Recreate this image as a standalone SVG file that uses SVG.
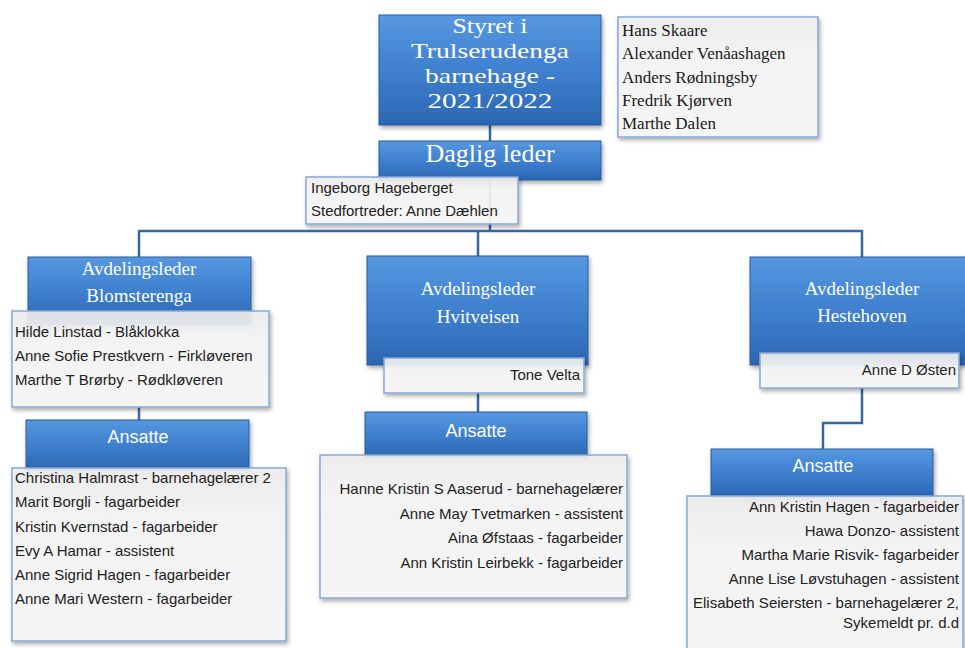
<svg xmlns="http://www.w3.org/2000/svg" width="965" height="648" viewBox="0 0 965 648">
<defs>
  <linearGradient id="blue" x1="0" y1="0" x2="0" y2="1">
    <stop offset="0" stop-color="#5797e0"/>
    <stop offset="0.5" stop-color="#3f80cf"/>
    <stop offset="1" stop-color="#2b66b2"/>
  </linearGradient>
  <linearGradient id="pale" x1="0" y1="0" x2="0" y2="1">
    <stop offset="0" stop-color="#eeeeee"/>
    <stop offset="0.3" stop-color="#f6f6f6"/>
    <stop offset="1" stop-color="#f8f8f8"/>
  </linearGradient>
  <filter id="sh" x="-10%" y="-10%" width="125%" height="130%">
    <feDropShadow dx="1.5" dy="2.5" stdDeviation="2" flood-color="#000" flood-opacity="0.35"/>
  </filter>
</defs>
<style>
  .bx{fill:url(#blue);stroke:#2a5c9c;stroke-width:1;filter:url(#sh)}
  .ib{fill:url(#pale);fill-opacity:0.9;stroke:#86a9d8;stroke-width:1.5;filter:url(#sh)}
  .cn{fill:none;stroke:#3866a4;stroke-width:2.5}
  .ts{font-family:"Liberation Serif","Times New Roman",serif;fill:#ffffff;text-anchor:middle}
  .tb{font-family:"Liberation Serif","Times New Roman",serif;font-size:17px;fill:#1a1a1a}
  .tw{font-family:"Liberation Sans",Arial,sans-serif;fill:#ffffff;font-size:18px;text-anchor:middle}
  .tl{font-family:"Liberation Sans",Arial,sans-serif;font-size:15px;fill:#222222}
  .tr{font-family:"Liberation Sans",Arial,sans-serif;font-size:15px;fill:#222222;text-anchor:end}
</style>
<rect width="965" height="648" fill="#ffffff"/>
<g id="connectors">
  <path class="cn" d="M490 125 V141"/>
  <path class="cn" d="M490 180 V231"/>
  <path class="cn" d="M139 257 V231 H862 V257"/>
  <path class="cn" d="M478 231 V257"/>
  <path class="cn" d="M139 407 V421"/>
  <path class="cn" d="M478 393 V412"/>
  <path class="cn" d="M862 388 V423 H823 V449"/>
</g>
<g id="styret">
  <rect class="bx" x="379" y="15" width="222" height="110"/>
  <text class="ts" font-size="22" x="490" y="33" textLength="75" lengthAdjust="spacingAndGlyphs">Styret i</text>
  <text class="ts" font-size="22" x="490" y="58" textLength="158" lengthAdjust="spacingAndGlyphs">Trulserudenga</text>
  <text class="ts" font-size="22" x="490" y="83" textLength="130" lengthAdjust="spacingAndGlyphs">barnehage -</text>
  <text class="ts" font-size="22" x="490" y="108" textLength="125" lengthAdjust="spacingAndGlyphs">2021/2022</text>
</g>
<g id="styret-members">
  <rect class="ib" x="618" y="17" width="200" height="120"/>
  <text class="tb" x="622" y="36">Hans Skaare</text>
  <text class="tb" x="622" y="59">Alexander Venåashagen</text>
  <text class="tb" x="622" y="83">Anders Rødningsby</text>
  <text class="tb" x="622" y="106">Fredrik Kjørven</text>
  <text class="tb" x="622" y="129">Marthe Dalen</text>
</g>
<g id="daglig-leder">
  <rect class="bx" x="379" y="141" width="222" height="39"/>
  <text class="ts" font-size="26" x="490" y="162">Daglig leder</text>
</g>
<g id="daglig-leder-info">
  <rect class="ib" x="306" y="177" width="212" height="47"/>
  <text class="tl" x="311" y="193">Ingeborg Hageberget</text>
  <text class="tl" x="311" y="216">Stedfortreder: Anne Dæhlen</text>
</g>
<g id="blomsterenga">
  <rect class="bx" x="28" y="257" width="223" height="68"/>
  <text class="ts" font-size="19" x="139" y="275">Avdelingsleder</text>
  <text class="ts" font-size="19" x="139" y="302">Blomsterenga</text>
</g>
<g id="blomsterenga-info">
  <rect class="ib" x="12" y="311" width="257" height="96"/>
  <text class="tl" x="15" y="337">Hilde Linstad - Blåklokka</text>
  <text class="tl" x="15" y="361">Anne Sofie Prestkvern - Firkløveren</text>
  <text class="tl" x="15" y="385">Marthe T Brørby - Rødkløveren</text>
</g>
<g id="ansatte-blomsterenga">
  <rect class="bx" x="26" y="420" width="223" height="50"/>
  <text class="tw" x="138" y="443">Ansatte</text>
</g>
<g id="ansatte-blomsterenga-list">
  <rect class="ib" x="12" y="468" width="274" height="173"/>
  <text class="tl" x="15" y="483">Christina Halmrast - barnehagelærer 2</text>
  <text class="tl" x="15" y="507">Marit Borgli - fagarbeider</text>
  <text class="tl" x="15" y="532">Kristin Kvernstad - fagarbeider</text>
  <text class="tl" x="15" y="556">Evy A Hamar - assistent</text>
  <text class="tl" x="15" y="580">Anne Sigrid Hagen - fagarbeider</text>
  <text class="tl" x="15" y="604">Anne Mari Western - fagarbeider</text>
</g>
<g id="hvitveisen">
  <rect class="bx" x="367" y="256" width="221" height="109"/>
  <text class="ts" font-size="19" x="478" y="295">Avdelingsleder</text>
  <text class="ts" font-size="19" x="478" y="323">Hvitveisen</text>
</g>
<g id="hvitveisen-info">
  <rect class="ib" x="384" y="358" width="200" height="35"/>
  <text class="tr" x="580" y="380">Tone Velta</text>
</g>
<g id="ansatte-hvitveisen">
  <rect class="bx" x="365" y="412" width="222" height="45"/>
  <text class="tw" x="476" y="437">Ansatte</text>
</g>
<g id="ansatte-hvitveisen-list">
  <rect class="ib" x="320" y="455" width="307" height="143"/>
  <text class="tr" x="623" y="494">Hanne Kristin S Aaserud - barnehagelærer</text>
  <text class="tr" x="623" y="519">Anne May Tvetmarken - assistent</text>
  <text class="tr" x="623" y="543">Aina Øfstaas - fagarbeider</text>
  <text class="tr" x="623" y="568">Ann Kristin Leirbekk - fagarbeider</text>
</g>
<g id="hestehoven">
  <rect class="bx" x="750" y="257" width="225" height="108"/>
  <text class="ts" font-size="19" x="862" y="295">Avdelingsleder</text>
  <text class="ts" font-size="19" x="862" y="322">Hestehoven</text>
</g>
<g id="hestehoven-info">
  <rect class="ib" x="760" y="353" width="199" height="35"/>
  <text class="tr" x="956" y="375">Anne D Østen</text>
</g>
<g id="ansatte-hestehoven">
  <rect class="bx" x="711" y="449" width="222" height="48"/>
  <text class="tw" x="823" y="472">Ansatte</text>
</g>
<g id="ansatte-hestehoven-list">
  <rect class="ib" x="687" y="496" width="276" height="170"/>
  <text class="tr" x="959" y="512">Ann Kristin Hagen - fagarbeider</text>
  <text class="tr" x="959" y="536">Hawa Donzo- assistent</text>
  <text class="tr" x="959" y="560">Martha Marie Risvik- fagarbeider</text>
  <text class="tr" x="959" y="584">Anne Lise Løvstuhagen - assistent</text>
  <text class="tr" x="959" y="608">Elisabeth Seiersten - barnehagelærer 2,</text>
  <text class="tr" x="959" y="628">Sykemeldt pr. d.d</text>
</g>
</svg>
